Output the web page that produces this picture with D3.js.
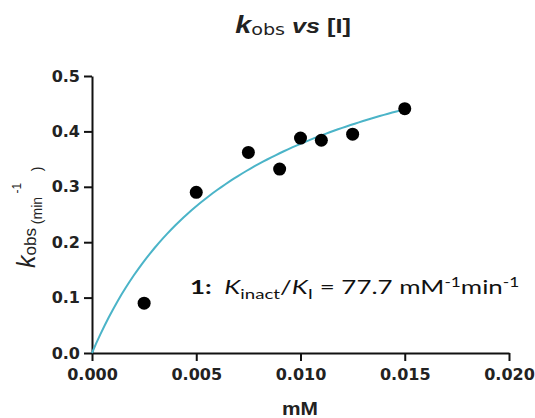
<!DOCTYPE html>
<html>
<head>
<meta charset="utf-8">
<script src="https://cdn.jsdelivr.net/npm/d3@7"></script>
<style>
  body { margin: 0; background: #fff; }
  svg { display: block; }
</style>
</head>
<body>
<script>
// data
var conc = [0.0025, 0.005, 0.0075, 0.009, 0.010, 0.011, 0.0125, 0.015]   // mM
var kobs = [0.090, 0.290, 0.362, 0.332, 0.388, 0.384, 0.395, 0.441]      // min^-1
var xTicks = [0, 0.005, 0.010, 0.015, 0.020]
var yTicks = [0, 0.1, 0.2, 0.3, 0.4, 0.5]

// hyperbolic fit  kobs = kinact*[I]/(KI+[I])
var kinact = 0.657
var KI = 0.0074

const w = 535, h = 418
const margin = {left: 92, top: 76, right: 26, bottom: 65}

const svg = d3.select("body").append("svg")
  .attr("width", w).attr("height", h)

const xScale = d3.scaleLinear().domain([0, 0.02]).range([margin.left, w - margin.right])
const yScale = d3.scaleLinear().domain([0, 0.5]).range([h - margin.bottom, margin.top])

//axes
const xAxis = d3.axisBottom(xScale).tickValues(xTicks).tickFormat(d3.format(".3f")).tickSize(8).tickSizeOuter(0).tickPadding(8)
const yAxis = d3.axisLeft(yScale).tickValues(yTicks).tickFormat(d3.format(".1f")).tickSize(8).tickSizeOuter(0).tickPadding(4)

svg.append("g")
  .attr("transform", "translate(0," + (h - margin.bottom) + ")")
  .call(xAxis)
svg.append("g")
  .attr("transform", "translate(" + margin.left + ",0)")
  .call(yAxis)

svg.selectAll(".domain, .tick line").attr("stroke", "#111").attr("stroke-width", 2)
svg.selectAll(".tick text")
  .attr("font-family", "DejaVu Sans")
  .attr("font-weight", "bold")
  .attr("font-size", 16)
  .attr("fill", "#222")

// fitted curve
var xs = d3.range(0, 0.01501, 0.0002)
const line = d3.line()
  .x(d => xScale(d))
  .y(d => yScale(kinact * d / (KI + d)))
svg.append("path")
  .datum(xs)
  .attr("d", line)
  .attr("fill", "none")
  .attr("stroke", "#4bb4c8")
  .attr("stroke-width", 2)

// points
svg.selectAll("circle")
  .data(conc)
  .enter()
  .append("circle")
  .attr("cx", d => xScale(d))
  .attr("cy", (d, i) => yScale(kobs[i]))
  .attr("r", 6.5)
  .attr("fill", "#000")

// title
var title = svg.append("text")
  .attr("transform", "translate(293,33) scale(1.2,1)")
  .attr("text-anchor", "middle")
  .attr("font-family", "Liberation Sans")
  .attr("fill", "#222")
title.append("tspan").attr("font-style", "italic").attr("font-weight", "bold").attr("font-size", 24).text("k")
title.append("tspan").attr("font-size", 16).attr("font-family", "DejaVu Sans").attr("dy", 2).text("obs")
title.append("tspan").attr("font-style", "italic").attr("font-weight", "bold").attr("font-size", 21).attr("dy", -2).text(" vs ")
title.append("tspan").attr("font-weight", "bold").attr("font-size", 21).text("[I]")

// x label
svg.append("text")
  .attr("transform", "translate(300,415) scale(1.1,1)")
  .attr("text-anchor", "middle")
  .attr("font-family", "Liberation Sans")
  .attr("font-weight", "bold")
  .attr("font-size", 19)
  .attr("fill", "#222")
  .text("mM")

// y label
var ylab = svg.append("text")
  .attr("transform", "translate(35,268) rotate(-90)")
  .attr("font-family", "Liberation Sans")
  .attr("fill", "#222")
  .attr("xml:space", "preserve")
ylab.append("tspan").attr("font-style", "italic").attr("font-size", 25).text("k")
ylab.append("tspan").attr("font-size", 17).attr("dy", 1).text("obs")
ylab.append("tspan").attr("font-size", 14).attr("dy", 6).text(" (min")
ylab.append("tspan").attr("font-size", 12).attr("dy", -21).text(" -1")
ylab.append("tspan").attr("font-size", 14).attr("dy", 21).text("   )")

// annotation
var ann = svg.append("text")
  .attr("transform", "translate(190,294) scale(1.33,1)")
  .attr("font-family", "Lato")
  .attr("font-size", 19.5)
  .attr("fill", "#111")
  .attr("xml:space", "preserve")
ann.append("tspan").attr("font-weight", "bold").text("1:  ")
ann.append("tspan").attr("font-style", "italic").text("K")
ann.append("tspan").attr("font-size", 14).attr("dy", 5).text("inact")
ann.append("tspan").attr("dy", -5).text("/")
ann.append("tspan").attr("font-style", "italic").text("K")
ann.append("tspan").attr("font-size", 14).attr("dy", 5).text("I")
ann.append("tspan").attr("dy", -5).text(" = 77.7 mM")
ann.append("tspan").attr("font-size", 13).attr("dy", -7).text("-1")
ann.append("tspan").attr("dy", 7).text("min")
ann.append("tspan").attr("font-size", 13).attr("dy", -7).text("-1")
</script>
</body>
</html>
